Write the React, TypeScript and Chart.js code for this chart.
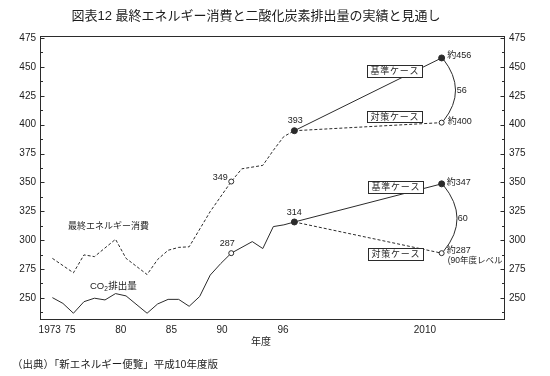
import React, { useEffect, useRef } from 'react';
import { Chart, registerables } from 'chart.js';

Chart.register(...registerables);

// ---- data ----
const energyYears = [1973, 1975, 1976, 1977, 1979, 1980, 1982, 1983, 1984, 1985, 1986, 1988, 1990, 1991, 1993, 1994, 1995, 1996];
const energyValues = [282.5, 270, 285.5, 284, 299, 282.5, 268.5, 281.5, 289.5, 292, 292.5, 323, 349, 360, 363, 376, 388, 393];

const co2Years = [1973, 1974, 1975, 1976, 1977, 1978, 1979, 1980, 1982, 1983, 1984, 1985, 1986, 1987, 1988, 1989, 1990, 1992, 1993, 1994, 1995, 1996];
const co2Values = [248.5, 243.5, 235, 245, 248, 246.5, 252, 250, 235, 243, 247, 247, 241, 249.5, 268, 278, 287, 297, 291, 310, 311.5, 314];

const projYears = [1996, 2010];
const energyBase = [393, 456];
const energyPolicy = [393, 400];
const co2Base = [314, 347];
const co2Policy = [314, 287];

const xTickValues = [1973, 1975, 1980, 1985, 1990, 1996, 2010];
const xTickLabels = ['1973', '75', '80', '85', '90', '96', '2010'];
const yTickValues = [250, 275, 300, 325, 350, 375, 400, 425, 450, 475];
const yMinorTicks = [237.5, 262.5, 287.5, 312.5, 337.5, 362.5, 387.5, 412.5, 437.5, 462.5];

const titleText = '図表12 最終エネルギー消費と二酸化炭素排出量の実績と見通し';
const sourceText = '（出典）「新エネルギー便覧」平成10年度版';
const xTitleText = '年度';
const energyName = '最終エネルギー消費';
const baseCase = '基準ケース';
const policyCase = '対策ケース';

// ---- styles ----
const FONT = '"Liberation Sans", "Noto Sans CJK JP", sans-serif';
const INK = '#1c1c1c';
const LINE = '#2b2b2b';
const LABEL_SHIFT = 2;

const pts = (xs: number[], ys: number[]) => xs.map((x, i) => ({ x, y: ys[i] }));

const frameAndTicks = {
  id: 'frameAndTicks',
  beforeDatasetsDraw(chart: any) {
    const { ctx, chartArea: a, scales } = chart;
    const y = scales.y;
    const L = Math.round(a.left) + 0.5;
    const R = Math.round(a.right) + 0.5;
    ctx.save();
    ctx.strokeStyle = LINE;
    ctx.lineWidth = 1;
    ctx.strokeRect(L, Math.round(a.top) + 0.5, R - L, Math.round(a.bottom - a.top));
    ctx.beginPath();
    for (const v of yTickValues) {
      const p = Math.round(y.getPixelForValue(v) + LABEL_SHIFT) + 0.5;
      ctx.moveTo(L, p); ctx.lineTo(L + 4, p);
      ctx.moveTo(R, p); ctx.lineTo(R - 4, p);
    }
    for (const v of yMinorTicks) {
      const p = Math.round(y.getPixelForValue(v) + LABEL_SHIFT) + 0.5;
      ctx.moveTo(L, p); ctx.lineTo(L + 2.5, p);
      ctx.moveTo(R, p); ctx.lineTo(R - 2.5, p);
    }
    ctx.stroke();
    ctx.restore();
  },
};

function spaced(ctx: CanvasRenderingContext2D, text: string, x: number, y: number, adv: number) {
  const chars = Array.from(text);
  ctx.textAlign = 'center';
  chars.forEach((ch, i) => ctx.fillText(ch, x + (i + 0.5) * adv, y));
}

function caseBox(ctx: CanvasRenderingContext2D, x: number, y: number, w: number, h: number, text: string) {
  ctx.fillStyle = '#fff';
  ctx.fillRect(x, y, w, h);
  ctx.strokeStyle = LINE;
  ctx.lineWidth = 1;
  ctx.strokeRect(x + 0.5, y + 0.5, w, h);
  ctx.fillStyle = INK;
  ctx.font = `9px ${FONT}`;
  ctx.textBaseline = 'middle';
  spaced(ctx, text, x + 3, y + h / 2 + 1, (w - 6) / Array.from(text).length);
}

const annotations = {
  id: 'annotations',
  afterDatasetsDraw(chart: any) {
    const { ctx, scales } = chart;
    const px = (v: number) => scales.x.getPixelForValue(v);
    const py = (v: number) => scales.y.getPixelForValue(v);
    ctx.save();
    ctx.fillStyle = INK;
    ctx.strokeStyle = LINE;
    ctx.textBaseline = 'middle';

    // title / source / axis title
    ctx.font = `13px ${FONT}`;
    ctx.textAlign = 'center';
    ctx.fillText(titleText, 256, 16);
    ctx.font = `10.5px ${FONT}`;
    ctx.textAlign = 'left';
    ctx.fillText(sourceText, 12, 365);
    ctx.font = `10px ${FONT}`;
    ctx.textAlign = 'center';
    ctx.fillText(xTitleText, 261, 342);

    // series names
    ctx.font = `9px ${FONT}`;
    spaced(ctx, energyName, 68, 227, 9.0);
    ctx.font = `9.5px ${FONT}`;
    ctx.textAlign = 'left';
    let cx = 90;
    ctx.fillText('CO', cx, 286);
    cx += ctx.measureText('CO').width;
    ctx.font = `6.5px ${FONT}`;
    ctx.fillText('2', cx, 289);
    cx += ctx.measureText('2').width + 0.5;
    ctx.font = `9.5px ${FONT}`;
    ctx.fillText('排出量', cx, 286);

    // values near points
    const x90 = px(1990), x96 = px(1996), x10 = px(2010);
    ctx.font = `9px ${FONT}`;
    ctx.textAlign = 'center';
    ctx.fillText(String(energyValues[energyYears.indexOf(1990)]), x90 - 11, py(349) - 4.5);
    ctx.fillText(String(co2Values[co2Years.indexOf(1990)]), x90 - 4, py(287) - 10);
    ctx.fillText(String(energyBase[0]), x96 + 1, py(energyBase[0]) - 10);
    ctx.fillText(String(co2Base[0]), x96, py(co2Base[0]) - 9.5);
    ctx.textAlign = 'left';
    ctx.fillText('約' + energyBase[1], x10 + 5.5, py(energyBase[1]) - 2);
    ctx.fillText('約' + energyPolicy[1], x10 + 6, py(energyPolicy[1]) - 1.5);
    ctx.fillText('約' + co2Base[1], x10 + 5, py(co2Base[1]) - 1);
    ctx.fillText('約' + co2Policy[1], x10 + 5, py(co2Policy[1]) - 3);
    ctx.font = `8.5px ${FONT}`;
    ctx.fillText('(90年度レベル', x10 + 6, py(co2Policy[1]) + 7.5);

    // difference arcs
    ctx.lineWidth = 1;
    const arc = (y1: number, y2: number, bulge: number) => {
      ctx.beginPath();
      ctx.moveTo(x10 + 1.5, y1 + 1);
      ctx.quadraticCurveTo(x10 + bulge * 2, (y1 + y2) / 2, x10 + 2, y2 - 2);
      ctx.stroke();
    };
    arc(py(energyBase[1]), py(energyPolicy[1]), 13);
    arc(py(co2Base[1]), py(co2Policy[1]), 14.5);
    ctx.font = `9px ${FONT}`;
    ctx.textAlign = 'center';
    ctx.fillText(String(energyBase[1] - energyPolicy[1]), x10 + 20, (py(energyBase[1]) + py(energyPolicy[1])) / 2);
    ctx.fillText(String(co2Base[1] - co2Policy[1]), x10 + 21, (py(co2Base[1]) + py(co2Policy[1])) / 2);

    // case boxes
    caseBox(ctx, 367, 65, 55, 12, baseCase);
    caseBox(ctx, 367, 111, 55, 11, policyCase);
    caseBox(ctx, 368, 181, 55, 12, baseCase);
    caseBox(ctx, 368, 248, 55, 12, policyCase);
    ctx.restore();
  },
};

export default function App() {
  const ref = useRef<HTMLCanvasElement | null>(null);

  useEffect(() => {
    if (!ref.current) return;
    const solid = { borderColor: LINE, borderWidth: 1, tension: 0, fill: false, pointBorderColor: LINE, pointBorderWidth: 1 };
    const dashed = { ...solid, borderDash: [3, 2] };
    const tickFont = { family: FONT, size: 10 };

    const chart = new Chart(ref.current, {
      type: 'line',
      data: {
        datasets: [
          { ...solid, label: 'energy-base', data: pts(projYears, energyBase), pointRadius: [3, 3], pointBackgroundColor: LINE },
          { ...dashed, label: 'energy-policy', data: pts(projYears, energyPolicy), pointRadius: [0, 2.5], pointBackgroundColor: '#fff' },
          { ...solid, label: 'co2-base', data: pts(projYears, co2Base), pointRadius: [3, 3], pointBackgroundColor: LINE },
          { ...dashed, label: 'co2-policy', data: pts(projYears, co2Policy), pointRadius: [0, 2.5], pointBackgroundColor: '#fff' },
          {
            ...dashed, label: 'energy', data: pts(energyYears, energyValues),
            pointRadius: energyYears.map((y) => (y === 1990 ? 2.5 : 0)), pointBackgroundColor: '#fff',
          },
          {
            ...solid, label: 'co2', data: pts(co2Years, co2Values),
            pointRadius: co2Years.map((y) => (y === 1990 ? 2.5 : 0)), pointBackgroundColor: '#fff',
          },
        ],
      },
      options: {
        animation: false,
        responsive: false,
        devicePixelRatio: 1,
        layout: { padding: { top: 36, left: 0, right: 0, bottom: 0 } },
        plugins: { legend: { display: false }, tooltip: { enabled: false }, title: { display: false } },
        elements: { point: { hoverRadius: 0 } },
        scales: {
          x: { type: 'linear', display: false, min: 1971.821, max: 2015.927 },
          xl: {
            type: 'linear', position: 'bottom', min: 1972.04, max: 2017.8,
            grid: { display: false, drawTicks: false }, border: { display: false },
            ticks: {
              font: tickFont, color: INK, padding: 5, autoSkip: false, maxRotation: 0,
              callback: (v: any) => { const i = xTickValues.indexOf(Number(v)); return i >= 0 ? xTickLabels[i] : ''; },
            },
            afterBuildTicks: (s: any) => { s.ticks = xTickValues.map((value) => ({ value })); },
            afterFit: (s: any) => { s.height = 57; },
          },
          y: {
            type: 'linear', position: 'left', min: 230, max: 475,
            grid: { display: false, drawTicks: false }, border: { display: false },
            ticks: { font: tickFont, color: INK, padding: 4, autoSkip: false, labelOffset: LABEL_SHIFT },
            afterBuildTicks: (s: any) => { s.ticks = yTickValues.map((value) => ({ value })); },
            afterFit: (s: any) => { s.width = 40; },
          },
          y2: {
            type: 'linear', position: 'right', min: 230, max: 475,
            grid: { display: false, drawTicks: false }, border: { display: false },
            ticks: { font: tickFont, color: INK, padding: 5, autoSkip: false, labelOffset: LABEL_SHIFT },
            afterBuildTicks: (s: any) => { s.ticks = yTickValues.map((value) => ({ value })); },
            afterFit: (s: any) => { s.width = 46; },
          },
        },
      } as any,
      plugins: [frameAndTicks, annotations],
    });
    return () => chart.destroy();
  }, []);

  return (
    <div style={{ position: 'fixed', left: 0, top: 0, width: 550, height: 376, background: '#fff' }}>
      <canvas ref={ref} width={550} height={376} style={{ display: 'block' }} />
    </div>
  );
}
